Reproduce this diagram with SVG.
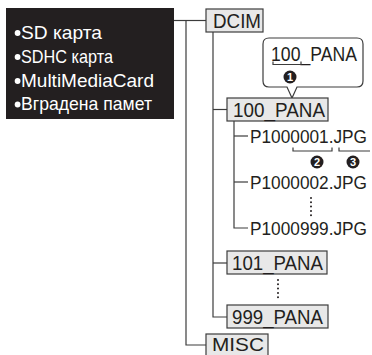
<svg xmlns="http://www.w3.org/2000/svg" width="372" height="355" viewBox="0 0 372 355">
<style>
.lbl{font-family:"Liberation Sans",Arial,sans-serif;font-size:20px;fill:#231f20}
.fn{font-family:"Liberation Sans",Arial,sans-serif;font-size:17.5px;fill:#231f20}
.wht{font-family:"Liberation Sans",Arial,sans-serif;font-size:19px;fill:#ffffff}
.bul{fill:#ffffff}
.box{fill:#e8e8e8;stroke:#3c3c3c;stroke-width:1.2}
.con{fill:none;stroke:#3c3c3c;stroke-width:1.2}
.dots{fill:none;stroke:#231f20;stroke-width:2;stroke-linecap:round;stroke-dasharray:0 4.3}
.num{font-family:"Liberation Sans",Arial,sans-serif;font-size:11px;font-weight:bold;fill:#ffffff;text-anchor:middle}
</style>
<g id="media">
<rect x="6" y="8" width="168" height="111" fill="#231f20"/>
<circle class="bul" cx="17.6" cy="33" r="2.9"/>
<text class="wht" x="21" y="38.5" textLength="81" lengthAdjust="spacingAndGlyphs">SD карта</text>
<circle class="bul" cx="17.6" cy="57" r="2.9"/>
<text class="wht" x="21" y="62.5" textLength="92" lengthAdjust="spacingAndGlyphs">SDHC карта</text>
<circle class="bul" cx="17.6" cy="81" r="2.9"/>
<text class="wht" x="21" y="86.5" textLength="133" lengthAdjust="spacingAndGlyphs">MultiMediaCard</text>
<circle class="bul" cx="17.6" cy="104.5" r="2.9"/>
<text class="wht" x="21" y="110" textLength="131" lengthAdjust="spacingAndGlyphs">Вградена памет</text>
</g>
<g id="connectors">
<path class="con" d="M174 20.5H206"/>
<path class="con" d="M186 20.5V345H206"/>
<path class="con" d="M213 32V317H227"/>
<path class="con" d="M213 109.5H227"/>
<path class="con" d="M213 263H227"/>
<path class="con" d="M234 121V228H248"/>
<path class="con" d="M234 136H248"/>
<path class="con" d="M234 182H248"/>
<path class="dots" d="M311 198V216"/>
<path class="dots" d="M278 280V299"/>
</g>
<g id="dcim">
<rect class="box" x="206" y="9" width="57" height="23"/>
<text class="lbl" x="213" y="28" textLength="48" lengthAdjust="spacingAndGlyphs">DCIM</text>
</g>
<g id="callout">
<path d="M269 38H357Q363 38 363 44V81Q363 87 357 87H297L292 98L287 87H269Q263 87 263 81V44Q263 38 269 38Z" fill="#ffffff" stroke="#3c3c3c" stroke-width="1.2"/>
<text class="lbl" x="271" y="60.5" textLength="86" lengthAdjust="spacingAndGlyphs">100_PANA</text>
<path class="con" d="M273 61.5V64.5H301V61.5"/>
<circle cx="290" cy="77" r="6.5" fill="#231f20"/>
<text class="num" x="290" y="81">1</text>
</g>
<g id="pana100">
<rect class="box" x="227" y="98" width="101" height="23"/>
<text class="lbl" x="233" y="117" textLength="92" lengthAdjust="spacingAndGlyphs">100_PANA</text>
</g>
<g id="file1">
<text class="fn" x="250" y="142.5" textLength="117" lengthAdjust="spacingAndGlyphs">P1000001.JPG</text>
<path class="con" d="M293 147.5V151H332V147.5"/>
<path class="con" d="M339 147.5V151H370"/>
<circle cx="317" cy="162" r="6.5" fill="#231f20"/>
<text class="num" x="317" y="166">2</text>
<circle cx="353" cy="162" r="6.5" fill="#231f20"/>
<text class="num" x="353" y="166">3</text>
</g>
<g id="file2">
<text class="fn" x="250" y="188.5" textLength="117" lengthAdjust="spacingAndGlyphs">P1000002.JPG</text>
</g>
<g id="file999">
<text class="fn" x="250" y="234.5" textLength="117" lengthAdjust="spacingAndGlyphs">P1000999.JPG</text>
</g>
<g id="pana101">
<rect class="box" x="227" y="251" width="100" height="23"/>
<text class="lbl" x="232" y="270" textLength="91" lengthAdjust="spacingAndGlyphs">101_PANA</text>
</g>
<g id="pana999">
<rect class="box" x="227" y="305" width="101" height="23"/>
<text class="lbl" x="232" y="324" textLength="91" lengthAdjust="spacingAndGlyphs">999_PANA</text>
</g>
<g id="misc">
<rect class="box" x="206" y="334" width="62" height="23"/>
<text class="lbl" x="212" y="351" font-size="18" style="font-size:18px" textLength="52" lengthAdjust="spacingAndGlyphs">MISC</text>
</g>
</svg>
